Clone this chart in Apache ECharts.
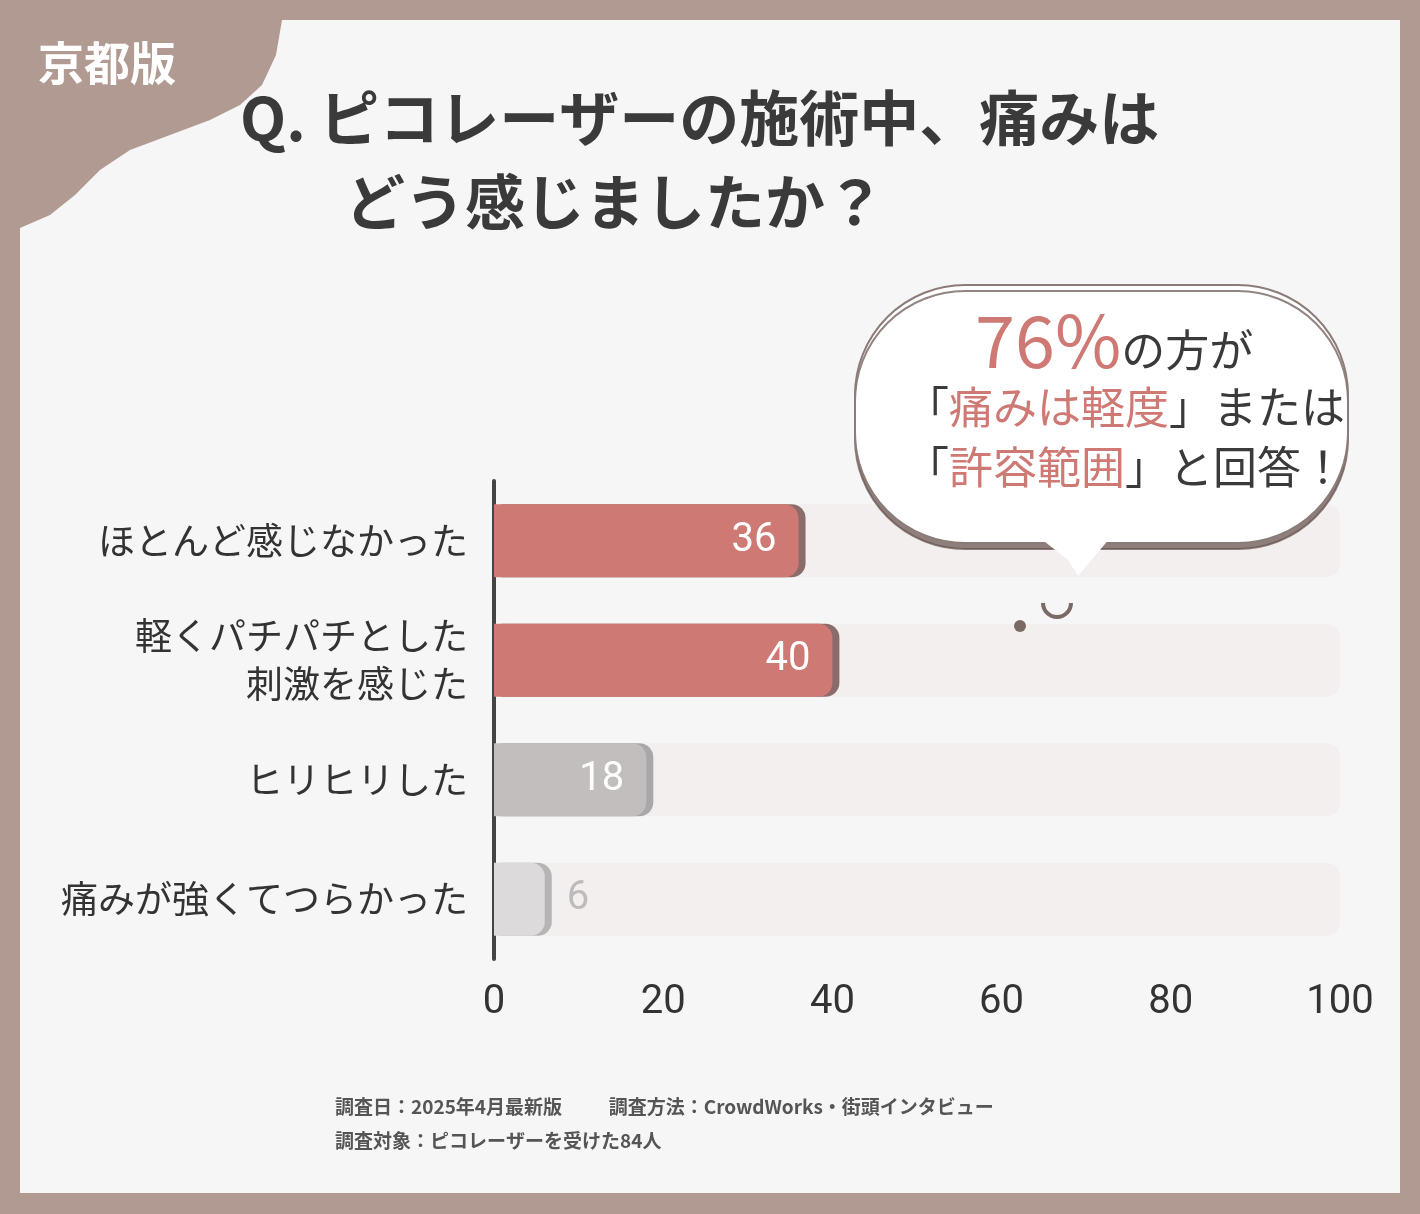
<!DOCTYPE html>
<html><head><meta charset="utf-8">
<script src="https://cdn.jsdelivr.net/npm/echarts@6/dist/echarts.min.js"></script>
<style>html,body{margin:0;padding:0;background:#b09a92}#c{width:1420px;height:1214px}</style>
</head><body><div id="c"></div>
<script>
const categories = ['ほとんど感じなかった', '軽くパチパチとした\n刺激を感じた', 'ヒリヒリした', '痛みが強くてつらかった'];
const values = [36, 40, 18, 6];
const xTicks = [0, 20, 40, 60, 80, 100];
const barColors = ['#cf7974', '#cf7974', '#c1bebd', '#dcdadb'];
const shadowColors = ['#8b6c6a', '#8b6c6a', '#a9a7a7', '#b6b4b4'];
const F = '"Noto Sans CJK JP", "Noto Sans", sans-serif';

const chart = echarts.init(document.getElementById('c'));
chart.setOption({
  backgroundColor: '#b09a92',
  animation: false,
  graphic: [
    { type: 'rect', shape: { x: 20, y: 20, width: 1380, height: 1173 }, style: { fill: '#f7f6f6' }, z: -10 },
    { type: 'polygon', shape: { points: [[20,20],[282,20],[276,55],[262,85],[240,105],[210,120],[170,135],[130,150],[100,170],[75,195],[50,215],[20,228]] }, style: { fill: '#b09a92' }, z: -5 },
    { type: 'text', left: 38, top: 40, style: { text: '京都版', fill: '#fff', font: 'bold 46px ' + F } },
    { type: 'text', left: 240, top: 88, style: { text: 'Q. ピコレーザーの施術中、痛みは', fill: '#3a3a3a', font: 'bold 60px ' + F, letterSpacing: 8 } },
    { type: 'text', left: 345, top: 172, style: { text: 'どう感じましたか？', fill: '#3a3a3a', font: 'bold 60px ' + F, letterSpacing: 8 } },
    { type: 'rect', shape: { x: 855, y: 285, width: 493, height: 258, r: 110 }, style: { fill: '#ffffff', stroke: '#8b7c78', lineWidth: 2, shadowColor: 'rgba(100,80,75,0.7)', shadowOffsetY: 6, shadowBlur: 0 }, z: 20 },
    { type: 'polygon', shape: { points: [[1040,538],[1110,538],[1078,576],[1068,560]] }, style: { fill: '#ffffff' }, z: 21 },
    { type: 'arc', shape: { cx: 1057, cy: 603, r: 14, startAngle: 0, endAngle: Math.PI }, style: { stroke: '#7a6a66', lineWidth: 4, fill: null }, z: 20 },
    { type: 'circle', shape: { cx: 1020, cy: 626, r: 6 }, style: { fill: '#7a6a66' }, z: 20 },
    { type: 'text', left: 975, top: 305, z: 22, style: { text: '{a|76%}{b|の方が}', rich: { a: { fill: '#cf7974', font: '72px ' + F }, b: { fill: '#3a3a3a', font: '44px ' + F, padding: [18, 0, 0, 0] } } } },
    { type: 'text', left: 905, top: 385, z: 22, style: { text: '{b|「}{a|痛みは軽度}{b|」または}', rich: { a: { fill: '#cf7974', font: '44px ' + F }, b: { fill: '#3a3a3a', font: '44px ' + F } } } },
    { type: 'text', left: 905, top: 445, z: 22, style: { text: '{b|「}{a|許容範囲}{b|」と回答！}', rich: { a: { fill: '#cf7974', font: '44px ' + F }, b: { fill: '#3a3a3a', font: '44px ' + F } } } },
    { type: 'text', left: 335, top: 1097, style: { text: '調査日：2025年4月最新版　　  調査方法：CrowdWorks・街頭インタビュー', fill: '#555', font: 'bold 19px ' + F } },
    { type: 'text', left: 335, top: 1131, style: { text: '調査対象：ピコレーザーを受けた84人', fill: '#555', font: 'bold 19px ' + F } }
  ],
  grid: { left: 494, right: 80, top: 481, bottom: 255, containLabel: false },
  xAxis: {
    type: 'value', min: 0, max: 100, interval: 20,
    splitLine: { show: false }, axisLine: { show: false }, axisTick: { show: false },
    axisLabel: { color: '#333', fontSize: 40, fontFamily: 'Roboto, "Noto Sans"', margin: 24,
      formatter: v => xTicks.includes(v) ? String(v) : '' }
  },
  yAxis: {
    type: 'category', data: categories, inverse: true,
    axisLine: { show: true, lineStyle: { color: '#444', width: 4 } }, axisTick: { show: false },
    axisLabel: { color: '#333', fontSize: 37, fontFamily: F, margin: 26, lineHeight: 48, align: 'right' }
  },
  series: [{
    type: 'bar', barWidth: 73, z: 3,
    showBackground: true,
    backgroundStyle: { color: '#f2efee', borderRadius: 14 },
    data: values.map((v, i) => ({
      value: v,
      itemStyle: { color: barColors[i], borderRadius: [0, 14, 14, 0], shadowColor: shadowColors[i], shadowOffsetX: 7, shadowBlur: 0 },
      label: i === 3 ? { position: 'right', color: '#bdbbbb', distance: 22 } : { position: 'insideRight', color: '#fff', distance: 22 }
    })),
    label: { show: true, fontSize: 40, fontFamily: 'Roboto, "Noto Sans"' }
  }]
});
</script></body></html>
